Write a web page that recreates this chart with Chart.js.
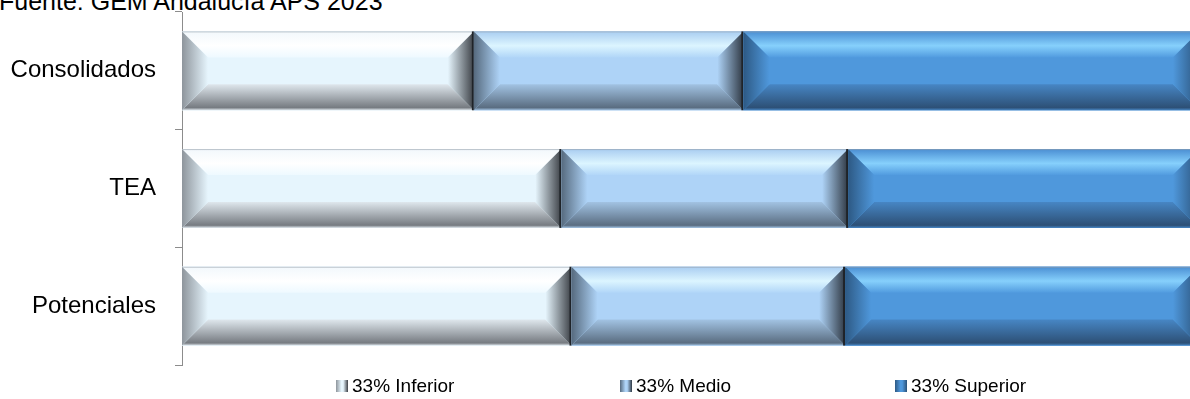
<!DOCTYPE html>
<html lang="es">
<head>
    <meta charset="UTF-8">
    <title>Fuente: GEM Andalucía APS 2023</title>
    <script src="https://cdn.jsdelivr.net/npm/chart.js"></script>
    <style>
        body {
            margin: 0;
            padding: 0;
            background: #fff;
            overflow: hidden;
            width: 1190px;
            height: 399px;
            position: relative;
            font-family: "Liberation Sans", Arial, sans-serif;
        }
        #title {
            position: absolute;
            left: -1px;
            top: -11px;
            font-size: 25px;
            line-height: 1;
            color: #000;
            white-space: nowrap;
        }
        #chartBox {
            position: absolute;
            left: 0;
            top: 0;
        }
        .legend-item {
            position: absolute;
            top: 375px;
            font-size: 19px;
            line-height: 22px;
            color: #000;
            white-space: nowrap;
            display: flex;
            align-items: center;
        }
        .legend-item .mk {
            width: 12px;
            height: 12px;
            margin-right: 4px;
            box-sizing: border-box;
        }
    </style>
</head>
<body>
    <div id="title">Fuente: GEM Andalucía APS 2023</div>
    <div id="chartBox">
        <canvas id="chart" width="1199" height="399"></canvas>
    </div>
    <div id="legend"></div>

    <script>
        // data
        const categories = ['Consolidados', 'TEA', 'Potenciales'];
        const seriesNames = ['33% Inferior', '33% Medio', '33% Superior'];
        const inferior = [28.7, 37.3, 38.3];
        const medio = [26.5, 28.2, 26.9];
        const superior = [44.8, 34.5, 34.8];

        // bevel shading per series
        const shades = [
            { face: '#e6f5fd', top0: '#f2f8fc', top1: '#ffffff', top2: '#eef9ff',
              bot0: '#dfe7ed', bot1: '#767b81', left0: '#8e959c', left1: '#e6f5fd',
              right0: '#e6f5fd', right1: '#3b3f45' },
            { face: '#aed3f7', top0: '#a9cdf1', top1: '#dcf5ff', top2: '#b1d6f8',
              bot0: '#a2c3e3', bot1: '#5a6d81', left0: '#566a7e', left1: '#aed3f7',
              right0: '#aed3f7', right1: '#2f3843' },
            { face: '#4f98dc', top0: '#4a8ed3', top1: '#86d0fc', top2: '#519bdf',
              bot0: '#4786c4', bot1: '#2d5076', left0: '#2d5984', left1: '#4f98dc',
              right0: '#4f98dc', right1: '#2b5279' }
        ];

        function poly(ctx, pts, fill) {
            ctx.beginPath();
            ctx.moveTo(pts[0][0], pts[0][1]);
            for (let i = 1; i < pts.length; i++) ctx.lineTo(pts[i][0], pts[i][1]);
            ctx.closePath();
            ctx.fillStyle = fill;
            ctx.fill();
        }

        function drawBevel(ctx, x0, x1, top, bot, c) {
            const b = Math.min(26, (bot - top) / 3, (x1 - x0) / 3);
            ctx.fillStyle = c.face;
            ctx.fillRect(x0, top, x1 - x0, bot - top);

            let g = ctx.createLinearGradient(0, top, 0, top + b);
            g.addColorStop(0, c.top0);
            g.addColorStop(0.55, c.top1);
            g.addColorStop(1, c.top2);
            poly(ctx, [[x0, top], [x1, top], [x1 - b, top + b], [x0 + b, top + b]], g);

            g = ctx.createLinearGradient(0, bot - b, 0, bot);
            g.addColorStop(0, c.bot0);
            g.addColorStop(0.9, c.bot1);
            g.addColorStop(1, c.bot0);
            poly(ctx, [[x0 + b, bot - b], [x1 - b, bot - b], [x1, bot], [x0, bot]], g);

            g = ctx.createLinearGradient(x0, 0, x0 + b, 0);
            g.addColorStop(0, c.left0);
            g.addColorStop(1, c.left1);
            poly(ctx, [[x0, top], [x0 + b, top + b], [x0 + b, bot - b], [x0, bot]], g);

            g = ctx.createLinearGradient(x1 - b, 0, x1, 0);
            g.addColorStop(0, c.right0);
            g.addColorStop(1, c.right1);
            poly(ctx, [[x1, top], [x1 - b, top + b], [x1 - b, bot - b], [x1, bot]], g);

            // thin edges
            ctx.strokeStyle = 'rgba(150,160,170,0.6)';
            ctx.lineWidth = 1;
            ctx.beginPath();
            ctx.moveTo(x0, top + 0.5); ctx.lineTo(x1, top + 0.5);
            ctx.stroke();
            ctx.strokeStyle = '#1f2328';
            ctx.lineWidth = 2;
            ctx.beginPath();
            ctx.moveTo(x1 - 1, top); ctx.lineTo(x1 - 1, bot);
            ctx.stroke();
        }

        const bevelPlugin = {
            id: 'bevel',
            afterDatasetsDraw(chart) {
                const ctx = chart.ctx;
                ctx.save();
                chart.data.datasets.forEach((ds, i) => {
                    const meta = chart.getDatasetMeta(i);
                    meta.data.forEach(el => {
                        const p = el.getProps(['x', 'y', 'base', 'height'], true);
                        const x0 = Math.min(p.x, p.base), x1 = Math.max(p.x, p.base);
                        drawBevel(ctx, x0, x1, p.y - p.height / 2, p.y + p.height / 2, shades[i]);
                    });
                });
                ctx.restore();
            }
        };

        const ctx = document.getElementById('chart').getContext('2d');
        new Chart(ctx, {
            type: 'bar',
            data: {
                labels: categories,
                datasets: [
                    { label: seriesNames[0], data: inferior, backgroundColor: shades[0].face },
                    { label: seriesNames[1], data: medio, backgroundColor: shades[1].face },
                    { label: seriesNames[2], data: superior, backgroundColor: shades[2].face }
                ]
            },
            options: {
                indexAxis: 'y',
                responsive: false,
                animation: false,
                layout: { padding: { top: 12, bottom: 34, left: 0, right: 0 } },
                scales: {
                    x: { stacked: true, min: 0, max: 100, display: false },
                    y: {
                        stacked: true,
                        afterFit: s => { s.width = 182; s.paddingTop = 0; s.paddingBottom = 0; },
                        border: { display: true, color: '#8c8c8c', width: 1 },
                        grid: { drawOnChartArea: false, drawTicks: true, tickLength: 7, color: '#8c8c8c', offset: true },
                        ticks: { padding: 19, color: '#000', font: { family: 'Liberation Sans', size: 24 } }
                    }
                },
                datasets: { bar: { barPercentage: 0.67, categoryPercentage: 1 } },
                plugins: { legend: { display: false }, tooltip: { enabled: false } }
            },
            plugins: [bevelPlugin]
        });

        // legend
        const legendX = [336, 620, 895];
        const legendBg = [
            'linear-gradient(90deg, #8e959c 0%, #e6f5fd 45%, #e6f5fd 60%, #3b3f45 100%)',
            'linear-gradient(90deg, #566a7e 0%, #aed3f7 45%, #aed3f7 60%, #2f3843 100%)',
            'linear-gradient(90deg, #2d5984 0%, #4f98dc 45%, #4f98dc 60%, #2b5279 100%)'
        ];
        const legend = document.getElementById('legend');
        seriesNames.forEach((name, i) => {
            const item = document.createElement('div');
            item.className = 'legend-item';
            item.style.left = legendX[i] + 'px';
            item.innerHTML = '<span class="mk" style="background:' + legendBg[i] + '"></span>' + name;
            legend.appendChild(item);
        });
    </script>
</body>
</html>
